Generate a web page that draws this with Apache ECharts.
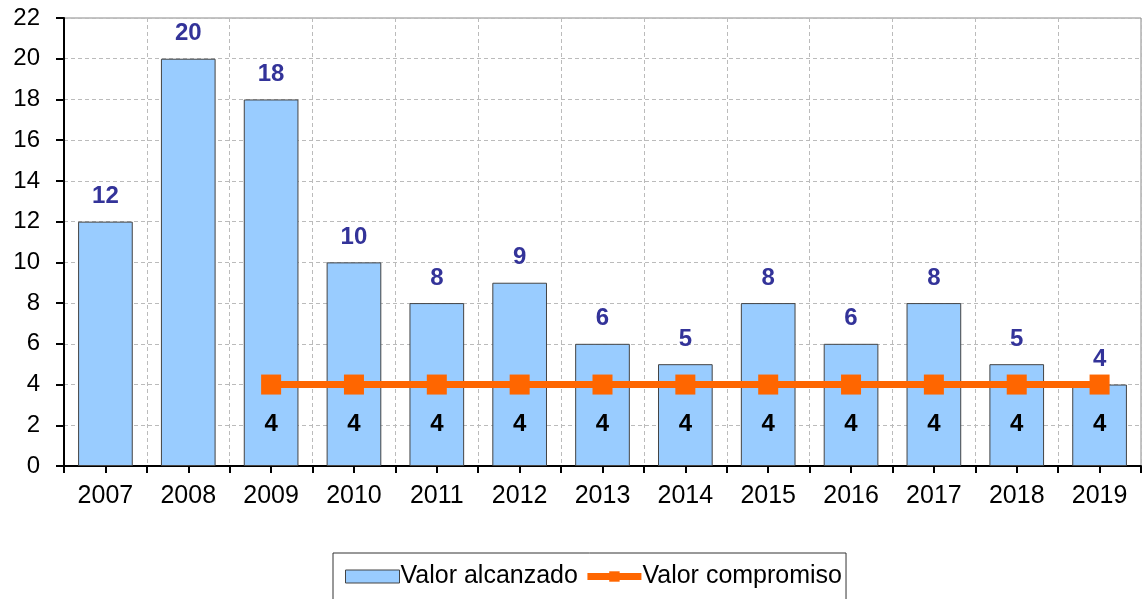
<!DOCTYPE html>
<html>
<head>
<meta charset="utf-8">
<script src="https://cdn.jsdelivr.net/npm/echarts@6/dist/echarts.min.js"></script>
<style>
  html, body { margin: 0; padding: 0; background: #fff; }
  #chart { width: 1142px; height: 599px; }
</style>
</head>
<body>
<div id="chart"></div>
<script>
// datos
const years = ['2007', '2008', '2009', '2010', '2011', '2012', '2013', '2014', '2015', '2016', '2017', '2018', '2019']
const alcanzado = [12, 20, 18, 10, 8, 9, 6, 5, 8, 6, 8, 5, 4]
const compromiso = [null, null, 4, 4, 4, 4, 4, 4, 4, 4, 4, 4, 4]

const font = '"Liberation Sans", Arial, sans-serif'

const myChart = echarts.init(document.getElementById('chart'))

const option = {
    animation: false,
    textStyle: { fontFamily: font },
    grid: {
        left: 64,
        right: 1,
        top: 18,
        bottom: 133,
        show: true,
        borderColor: '#888',
        borderWidth: 1
    },
    legend: {
        top: 553,
        left: 333,
        itemGap: 6,
        itemWidth: 54,
        itemHeight: 13,
        padding: [11, 4, 20, 12],
        borderColor: '#333',
        borderWidth: 1,
        textStyle: { color: '#000', fontSize: 25, fontFamily: font, padding: [0, 0, 0, -4] },
        data: [
            { name: 'Valor alcanzado', icon: 'rect', itemStyle: { color: '#99CCFF', borderColor: '#444', borderWidth: 1 } },
            { name: 'Valor compromiso', lineStyle: { width: 7, color: '#FF6600' } }
        ]
    },
    xAxis: [{
        type: 'category',
        data: years,
        axisLine: { lineStyle: { color: '#000', width: 2 } },
        axisTick: { show: true, length: 7, lineStyle: { color: '#000', width: 2 } },
        axisLabel: { color: '#000', fontSize: 25, margin: 18 },
        splitLine: { show: true, lineStyle: { color: '#bbb', type: [4, 3] } }
    }, {
        type: 'category',
        data: years,
        position: 'bottom',
        axisLine: { show: false },
        axisTick: { show: true, alignWithLabel: true, length: 7, lineStyle: { color: '#000', width: 2 } },
        axisLabel: { show: false }
    }],
    yAxis: {
        type: 'value',
        min: 0,
        max: 22,
        interval: 2,
        axisLine: { show: true, lineStyle: { color: '#000', width: 2 } },
        axisTick: { show: true, inside: false, length: 8, lineStyle: { color: '#000', width: 2 } },
        axisLabel: { color: '#000', fontSize: 24, margin: 24 },
        splitLine: { show: true, lineStyle: { color: '#bbb', type: [4, 3] } }
    },
    series: [{
        name: 'Valor alcanzado',
        type: 'bar',
        data: alcanzado,
        barWidth: '66%',
        itemStyle: { color: '#99CCFF', borderColor: '#444', borderWidth: 1 },
        label: {
            show: true,
            position: 'top',
            distance: 13,
            color: '#333399',
            fontWeight: 'bold',
            fontSize: 24
        }
    }, {
        name: 'Valor compromiso',
        type: 'line',
        data: compromiso,
        symbol: 'rect',
        symbolSize: 20,
        lineStyle: { color: '#FF6600', width: 7 },
        itemStyle: { color: '#FF6600' },
        label: {
            show: true,
            position: 'bottom',
            distance: 18,
            color: '#000',
            fontWeight: 'bold',
            fontSize: 24
        },
        z: 3
    }]
}

myChart.setOption(option)
</script>
</body>
</html>
